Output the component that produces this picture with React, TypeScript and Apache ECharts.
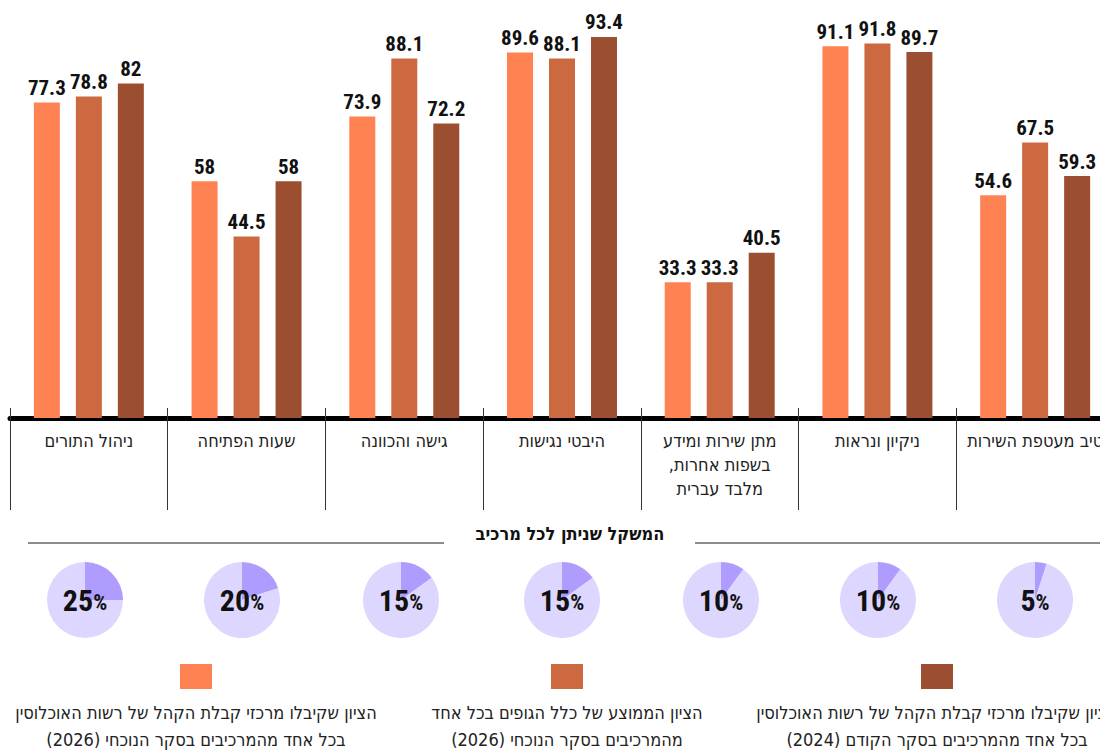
import React, { useEffect, useRef } from "react";
import * as echarts from "echarts";

const RLM = "\u200F";
const categories = [
  "ניהול התורים",
  "שעות הפתיחה",
  "גישה והכוונה",
  "היבטי נגישות",
  "מתן שירות ומידע\nבשפות אחרות,\nמלבד עברית",
  "ניקיון ונראות",
  "טיב מעטפת השירות",
];
const authority2026 = [77.3, 58, 73.9, 89.6, 33.3, 91.1, 54.6];
const average2026 = [78.8, 44.5, 88.1, 88.1, 33.3, 91.8, 67.5];
const authority2024 = [82, 58, 72.2, 93.4, 40.5, 89.7, 59.3];
const weights = [25, 20, 15, 15, 10, 10, 5];
const weightTitle = "המשקל שניתן לכל מרכיב";
const legendLabels = [
  "הציון שקיבלו מרכזי קבלת הקהל של רשות האוכלוסין\nבכל אחד מהמרכיבים בסקר הנוכחי (2026)",
  "הציון הממוצע של כלל הגופים בכל אחד\nמהמרכיבים בסקר הנוכחי (2026)",
  "הציון שקיבלו מרכזי קבלת הקהל של רשות האוכלוסין\nבכל אחד מהמרכיבים בסקר הקודם (2024)",
];

const COLORS = ["#FF8352", "#CC6940", "#9B4F30"];
const PIE_DARK = "#B09CFE";
const PIE_LIGHT = "#DDD6FE";
const NUM_FONT = "'Roboto Condensed', 'Liberation Sans Narrow', 'Liberation Sans', sans-serif";
const HEB_FONT = "'DejaVu Sans Condensed', 'Liberation Sans', sans-serif";

const rtl = (s: string) =>
  s
    .split("\n")
    .map((l) => RLM + l + RLM)
    .join("\n");

const W = 1114;
const H = 752;
const pieX = [85, 242, 401, 562, 721, 878, 1035];
const legendX = [196, 567, 937];

export default function App() {
  const ref = useRef<HTMLDivElement>(null);
  useEffect(() => {
    if (!ref.current) return;
    const chart = echarts.init(ref.current, null, { renderer: "svg" });
    const seriesData = [authority2026, average2026, authority2024];
    const barSeries = seriesData.map((d, i) => ({
      type: "bar",
      data: d,
      barWidth: 26,
      barGap: "61.5%",
      itemStyle: { color: COLORS[i] },
      label: {
        show: true,
        position: "top",
        distance: 4,
        color: "#111",
        fontFamily: NUM_FONT,
        fontWeight: "bold",
        fontSize: 21,
      },
      silent: true,
      xAxisIndex: 0,
      yAxisIndex: 0,
    }));
    const pieSeries = weights.map((w, i) => ({
      type: "pie",
      center: [pieX[i], 600],
      radius: 38,
      startAngle: 90,
      clockwise: true,
      silent: true,
      label: {
        show: true,
        position: "center",
        formatter: (p: any) => (p.dataIndex === 0 ? `{n|${p.value}}{p|%}` : ""),
        rich: {
          n: { fontFamily: NUM_FONT, fontWeight: "bold", fontSize: 30, color: "#111" },
          p: { fontFamily: NUM_FONT, fontWeight: "bold", fontSize: 22, color: "#111", padding: [5, 0, 0, 0] },
        },
      },
      labelLine: { show: false },
      data: [
        { value: w, itemStyle: { color: PIE_DARK } },
        { value: 100 - w, itemStyle: { color: PIE_LIGHT } },
      ],
    }));
    const graphics: any[] = [
      {
        type: "line",
        shape: { x1: 28, y1: 543, x2: 444, y2: 543 },
        style: { stroke: "#666", lineWidth: 1.5 },
      },
      {
        type: "line",
        shape: { x1: 695, y1: 543, x2: W, y2: 543 },
        style: { stroke: "#666", lineWidth: 1.5 },
      },
      {
        type: "text",
        x: 570,
        y: 533,
        style: {
          text: weightTitle,
          fill: "#111",
          font: `bold 18px ${HEB_FONT}`,
          align: "center",
          verticalAlign: "middle",
        },
      },
    ];
    legendX.forEach((x, i) => {
      graphics.push({
        type: "rect",
        shape: { x: x - 16, y: 664, width: 32, height: 25 },
        style: { fill: COLORS[i] },
      });
      graphics.push({
        type: "text",
        x,
        y: 699,
        style: {
          text: rtl(legendLabels[i]),
          fill: "#222",
          font: `18px ${HEB_FONT}`,
          lineHeight: 27,
          align: "center",
          verticalAlign: "top",
        },
      });
    });
    chart.setOption({
      animation: false,
      grid: { left: 10, right: 0, top: 10, bottom: 334, containLabel: false },
      xAxis: [
        {
          type: "category",
          data: categories.map(rtl),
          axisLine: { show: true, lineStyle: { color: "#000", width: 5 } },
          axisTick: { show: true, length: 92, lineStyle: { color: "#333", width: 1 } },
          axisLabel: {
            interval: 0,
            margin: 10,
            color: "#222",
            fontFamily: HEB_FONT,
            fontSize: 18,
            lineHeight: 24,
          },
        },
        {
          type: "category",
          data: categories,
          position: "bottom",
          axisLine: { show: false },
          axisTick: { show: true, inside: true, length: 10, lineStyle: { color: "#333", width: 1 } },
          axisLabel: { show: false },
        },
      ],
      yAxis: [{ type: "value", min: 0, max: 100, show: false }],
      series: [...barSeries, ...pieSeries],
      graphic: graphics,
    });
    return () => chart.dispose();
  }, []);
  return (
    <div
      ref={ref}
      style={{ position: "fixed", left: 0, top: 0, width: W, height: H, background: "#fff" }}
    />
  );
}
